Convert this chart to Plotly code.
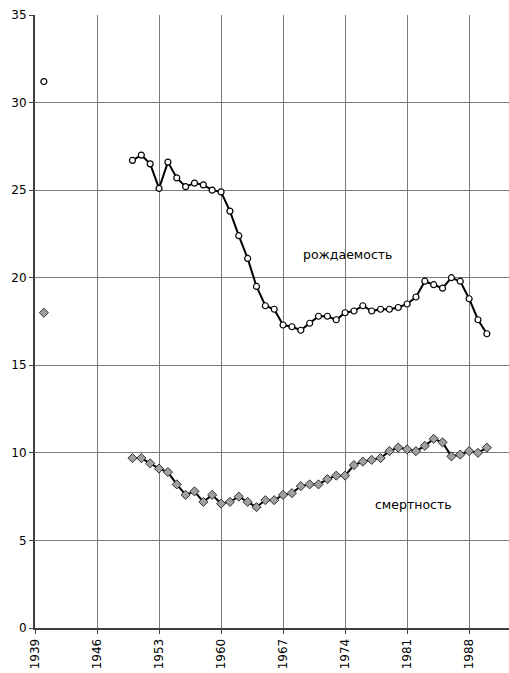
import plotly.graph_objects as go

birth_years = [1940] + list(range(1950, 1991))
birth = [31.2,
         26.7, 27.0, 26.5, 25.1, 26.6, 25.7, 25.2, 25.4, 25.3, 25.0,
         24.9, 23.8, 22.4, 21.1, 19.5, 18.4, 18.2, 17.3, 17.2, 17.0,
         17.4, 17.8, 17.8, 17.6, 18.0, 18.1, 18.4, 18.1, 18.2, 18.2,
         18.3, 18.5, 18.9, 19.8, 19.6, 19.4, 20.0, 19.8, 18.8, 17.6, 16.8]
death = [18.0,
         9.7, 9.7, 9.4, 9.1, 8.9, 8.2, 7.6, 7.8, 7.2, 7.6,
         7.1, 7.2, 7.5, 7.2, 6.9, 7.3, 7.3, 7.6, 7.7, 8.1,
         8.2, 8.2, 8.5, 8.7, 8.7, 9.3, 9.5, 9.6, 9.7, 10.1,
         10.3, 10.2, 10.1, 10.4, 10.8, 10.6, 9.8, 9.9, 10.1, 10.0, 10.3]
tick_years = [1939, 1946, 1953, 1960, 1967, 1974, 1981, 1988]
y_ticks = [0, 5, 10, 15, 20, 25, 30, 35]

circle = dict(symbol="circle", size=6, color="white",
              line=dict(color="black", width=1.2))
diamond = dict(symbol="diamond", size=7, color="#a0a0a0",
               line=dict(color="#303030", width=1))

# the isolated 1940 point is drawn separately (no line across the gap)
x_main = birth_years[1:]
fig = go.Figure()
fig.add_trace(go.Scatter(x=x_main, y=birth[1:], mode="lines+markers",
                         line=dict(color="black", width=2),
                         marker=circle, showlegend=False))
fig.add_trace(go.Scatter(x=x_main, y=death[1:], mode="lines+markers",
                         line=dict(color="black", width=2),
                         marker=diamond, showlegend=False))
fig.add_trace(go.Scatter(x=[birth_years[0]], y=[birth[0]], mode="markers",
                         marker=circle, showlegend=False))
fig.add_trace(go.Scatter(x=[birth_years[0]], y=[death[0]], mode="markers",
                         marker=diamond, showlegend=False))

fig.add_annotation(x=1974.3, y=21.35, text="рождаемость", showarrow=False,
                   font=dict(family="DejaVu Sans", size=12.5, color="black"))
fig.add_annotation(x=1981.7, y=7.07, text="смертность", showarrow=False,
                   font=dict(family="DejaVu Sans", size=12.5, color="black"))

fig.update_layout(
    width=509, height=673,
    margin=dict(l=35, r=0, t=15, b=45),
    paper_bgcolor="white", plot_bgcolor="white",
    font=dict(family="DejaVu Sans", size=12, color="black"),
    xaxis=dict(range=[1939, 1992.5], tickmode="array", tickvals=tick_years,
               ticktext=[str(t) for t in tick_years], tickangle=-90,
               showgrid=True, gridcolor="#7a7a7a", gridwidth=1,
               showline=True, linecolor="#404040", linewidth=2,
               ticks="outside", ticklen=4, tickcolor="#404040",
               zeroline=False, automargin=False),
    yaxis=dict(range=[0, 35], tickmode="array", tickvals=y_ticks,
               showgrid=True, gridcolor="#7a7a7a", gridwidth=1,
               showline=True, linecolor="#404040", linewidth=2,
               ticks="outside", ticklen=4, tickcolor="#404040",
               zeroline=False, automargin=False),
)
fig.write_html("out.html", config={"displayModeBar": False},
               post_script="document.body.style.margin='0';")
